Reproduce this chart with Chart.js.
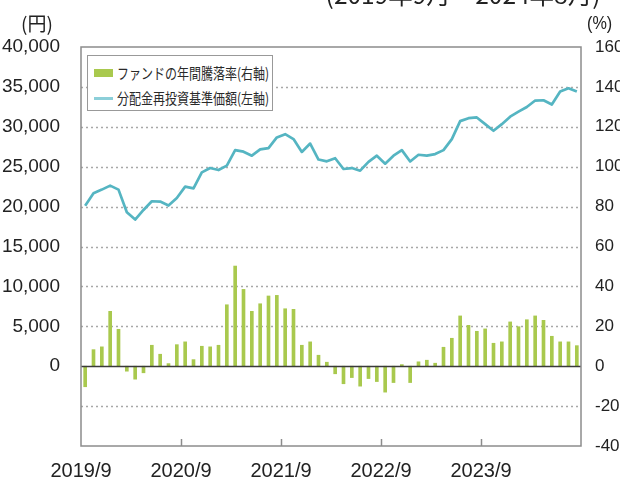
<!DOCTYPE html>
<html><head><meta charset="utf-8">
<script src="https://cdn.jsdelivr.net/npm/chart.js@4"></script>
<style>
html,body{margin:0;padding:0;background:#fff;overflow:hidden}
#wrap{position:relative;width:620px;height:480px;overflow:hidden}
canvas{position:absolute;left:0;top:0}
.lbl{position:absolute;color:#222;white-space:nowrap}
#title{right:20px;top:-18px;font:24px "Noto Sans CJK JP",sans-serif;line-height:24px;transform:scaleX(1.02);transform-origin:right top}
#yl{left:21px;top:12px;font:19px "Noto Sans CJK JP",sans-serif;line-height:22px}
#yr{left:587px;top:12px;font:18px "Liberation Sans",sans-serif;line-height:22px;transform:scaleX(0.9);transform-origin:left top}
#legend{position:absolute;left:87px;top:55px;width:186px;height:56px;border:1.5px solid #999;background:#fff;box-sizing:border-box}
.row{position:absolute;left:0;height:20px;width:240px}
.sw{position:absolute;left:6px}
.tx{position:absolute;left:29px;top:0;font:15px "Noto Sans CJK JP",sans-serif;line-height:20px;color:#2a2a2a;transform:scaleX(0.8);transform-origin:left center;white-space:nowrap}
</style></head><body>
<div id="wrap">
<canvas id="c" width="620" height="480"></canvas>
<div id="title" class="lbl">(2019年9月～2024年8月)</div>
<div id="yl" class="lbl">(円)</div>
<div id="yr" class="lbl">(%)</div>
<div id="legend"></div>
</div>
<script>
const months = [
 '2019/9','2019/10','2019/11','2019/12','2020/1','2020/2','2020/3','2020/4','2020/5','2020/6','2020/7','2020/8',
 '2020/9','2020/10','2020/11','2020/12','2021/1','2021/2','2021/3','2021/4','2021/5','2021/6','2021/7','2021/8',
 '2021/9','2021/10','2021/11','2021/12','2022/1','2022/2','2022/3','2022/4','2022/5','2022/6','2022/7','2022/8',
 '2022/9','2022/10','2022/11','2022/12','2023/1','2023/2','2023/3','2023/4','2023/5','2023/6','2023/7','2023/8',
 '2023/9','2023/10','2023/11','2023/12','2024/1','2024/2','2024/3','2024/4','2024/5','2024/6','2024/7','2024/8'
];
// 分配金再投資基準価額 (円, left axis)
const navValues = [
 20100,21670,22130,22630,22130,19290,18380,19580,20670,20630,20130,21080,
 22500,22290,24290,24830,24580,25130,27080,26880,26380,27170,27330,28670,
 29080,28460,26850,27900,25900,25670,26060,24710,24830,24500,25600,26380,
 25380,26380,27080,25650,26500,26380,26580,27080,28450,30710,31080,31170,
 30330,29500,30330,31270,31900,32480,33290,33330,32790,34420,34830,34420
];
// ファンドの年間騰落率 (%, right axis)
const returnValues = [
 -10.3,8.3,9.7,27.5,18.5,-2.5,-6.5,-3.3,10.5,6.0,1.3,10.8,
 12.2,3.3,10.0,9.7,10.5,30.8,50.2,38.5,27.5,31.3,35.2,35.5,
 28.8,28.5,10.5,12.2,5.5,2.0,-3.8,-8.8,-5.7,-10.0,-6.2,-7.7,
 -13.0,-8.2,0.8,-8.2,2.2,3.0,1.5,9.5,14.0,25.2,20.5,17.5,
 18.7,11.5,12.2,22.2,19.8,23.3,25.2,23.0,15.0,12.2,12.2,10.3
];
const seriesNames = ['ファンドの年間騰落率(右軸)','分配金再投資基準価額(左軸)'];
const leftTicks = {min:-10000, max:40000, step:5000};
const rightTicks = {min:-40, max:160, step:20};
const xTickStep = 12;

const barColor = '#a9c94e';
const lineColor = '#55b5c2';

// HTML legend
const lg = document.getElementById('legend');
[[seriesNames[0],'bar'],[seriesNames[1],'line']].forEach((it,k)=>{
  const row = document.createElement('div');
  row.className='row'; row.style.top = (7 + k*25)+'px';
  const sw = document.createElement('div'); sw.className='sw';
  if (it[1]==='bar'){ sw.style.cssText += 'top:6px;width:19px;height:8px;background:'+barColor; }
  else { sw.style.cssText += 'top:9px;width:19px;height:3px;background:#8ccfd9'; }
  const tx = document.createElement('div'); tx.className='tx'; tx.textContent = it[0];
  row.appendChild(sw); row.appendChild(tx); lg.appendChild(row);
});

const frame = {
  id:'frame',
  beforeDatasetsDraw(chart){
    const {ctx, chartArea:a, scales:{y}} = chart;
    ctx.save();
    ctx.setLineDash([2,3]); ctx.lineWidth=1.5; ctx.strokeStyle='#a8a8a8';
    y.ticks.forEach(t=>{
      if (t.value===0 || t.value<=leftTicks.min || t.value>=leftTicks.max) return;
      const py = Math.round(y.getPixelForValue(t.value))+0.5;
      ctx.beginPath(); ctx.moveTo(a.left,py); ctx.lineTo(a.right,py); ctx.stroke();
    });
    ctx.restore();
  },
  afterDatasetsDraw(chart){
    const {ctx, chartArea:a, scales:{y,x}} = chart;
    ctx.save();
    ctx.setLineDash([]);
    const z = Math.round(y.getPixelForValue(0))+0.5;
    ctx.strokeStyle='#3a3a3a'; ctx.lineWidth=1.5;
    ctx.beginPath(); ctx.moveTo(a.left,z); ctx.lineTo(a.right,z); ctx.stroke();
    ctx.strokeStyle='#8c8c8c'; ctx.lineWidth=1.5;
    ctx.strokeRect(a.left, a.top, a.right-a.left, a.bottom-a.top);
    x.ticks.forEach(t=>{
      if (t.value<=x.min || t.value>=x.max) return;
      const px = Math.round(x.getPixelForValue(t.value))+0.5;
      ctx.beginPath(); ctx.moveTo(px,a.bottom); ctx.lineTo(px,a.bottom-7); ctx.stroke();
    });
    ctx.restore();
  }
};

const tickFont = {family:'"Liberation Sans", Arial, sans-serif', size:19};
new Chart(document.getElementById('c'), {
  data:{
    datasets:[
      {type:'line', label:seriesNames[1], data:navValues.map((v,i)=>({x:i+0.5,y:v})), yAxisID:'y', xAxisID:'x',
       borderColor:lineColor, borderWidth:2.7, pointRadius:0, tension:0, order:1, borderJoinStyle:'round'},
      {type:'bar', label:seriesNames[0], data:returnValues.map((v,i)=>({x:i+0.5,y:v})), yAxisID:'y1', xAxisID:'x',
       backgroundColor:barColor, barThickness:3, order:2}
    ]
  },
  options:{
    responsive:false, animation:false, devicePixelRatio:1,
    layout:{padding:{top:47,left:0,right:0,bottom:0}},
    plugins:{legend:{display:false}, tooltip:{enabled:false}},
    scales:{
      x:{type:'linear', position:'bottom', min:0, max:months.length, offset:false,
         grid:{display:false, offset:false}, border:{display:false},
         ticks:{stepSize:xTickStep, autoSkip:false, maxRotation:0, padding:5, color:'#222',
           font:{family:'"Liberation Sans", Arial, sans-serif', size:20},
           callback:(v)=> (v < months.length && v % xTickStep===0) ? months[v] : ''},
         afterFit:(s)=>{ s.height = 34; }},
      y:{position:'left', min:leftTicks.min, max:leftTicks.max,
         grid:{display:false}, border:{display:false},
         ticks:{stepSize:leftTicks.step, padding:13, color:'#222', font:tickFont,
           callback:(v)=> v<0 ? '' : v.toLocaleString('en-US')},
         afterFit:(s)=>{ s.width = 81; }},
      y1:{position:'right', min:rightTicks.min, max:rightTicks.max,
         grid:{display:false}, border:{display:false},
         ticks:{stepSize:rightTicks.step, padding:6, color:'#222',
           font:{family:'"Liberation Sans", Arial, sans-serif', size:17},
           callback:(v)=> String(v)},
         afterFit:(s)=>{ s.width = 39; }}
    }
  },
  plugins:[frame]
});
</script>
</body></html>
